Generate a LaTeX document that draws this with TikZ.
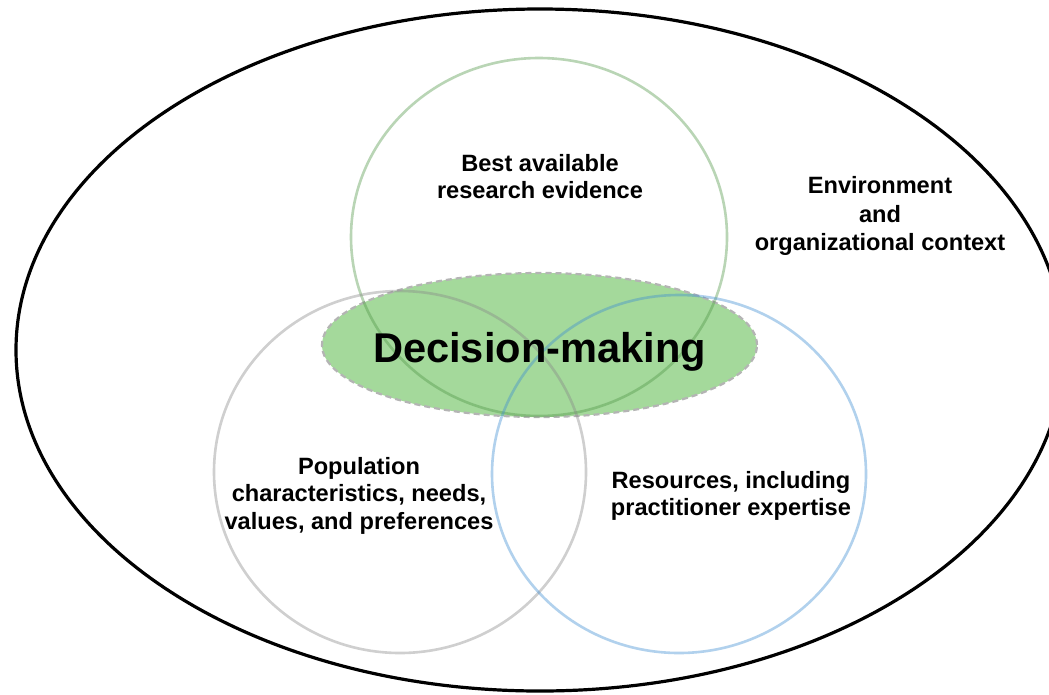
\documentclass[tikz,border=0pt]{standalone}
\usepackage{fontspec}
\setmainfont{Liberation Sans}
\definecolor{decfill}{RGB}{164,217,155}
\definecolor{decedge}{RGB}{180,180,180}
\definecolor{evgreen}{RGB}{80,150,70}
\definecolor{popgray}{RGB}{135,135,135}
\definecolor{resblue}{RGB}{60,140,210}
\tikzset{
  outerline/.style={draw=black, line width=3.2pt},
  vennring/.style={line width=2.6pt, draw opacity=0.4},
  decisionarea/.style={fill=decfill, draw=decedge, line width=2.2pt, dash pattern=on 6pt off 4pt},
  lbl/.style={align=center, inner sep=0pt, font=\bfseries\fontsize{23.6}{27.5}\selectfont},
}
\begin{document}
\begin{tikzpicture}[x=1pt,y=-1pt]
\useasboundingbox (0,0) rectangle (1049,694);
\clip (0,0) rectangle (1049,694);
\fill[white] (0,0) rectangle (1049,694);

% surrounding context
\draw[outerline] (540,350) ellipse [x radius=524pt, y radius=341pt];

% central decision area
\draw[decisionarea] (539.5,345) ellipse [x radius=217.5pt, y radius=72pt];

% the three overlapping domains
\draw[vennring, draw=evgreen] (539,237) ellipse [x radius=188pt, y radius=179pt];
\draw[vennring, draw=popgray] (400,472) ellipse [x radius=186pt, y radius=181pt];
\draw[vennring, draw=resblue] (679,474) ellipse [x radius=187pt, y radius=179pt];

% labels
\node[lbl] (evidence) at (540,176.5) {Best available\\research evidence};
\node[lbl, font=\bfseries\fontsize{23.6}{28.5}\selectfont] (context) at (880,216) {Environment\\and\\organizational context};
\node[lbl] (population) at (359,495.5) {Population\\characteristics, needs,\\values, and preferences};
\node[lbl] (resources) at (731,496) {Resources, including\\practitioner expertise};
\node[anchor=base, inner sep=0pt, font=\bfseries\fontsize{41.6}{48}\selectfont] (decision) at (539.5,362) {Decision-making};
\end{tikzpicture}
\end{document}
